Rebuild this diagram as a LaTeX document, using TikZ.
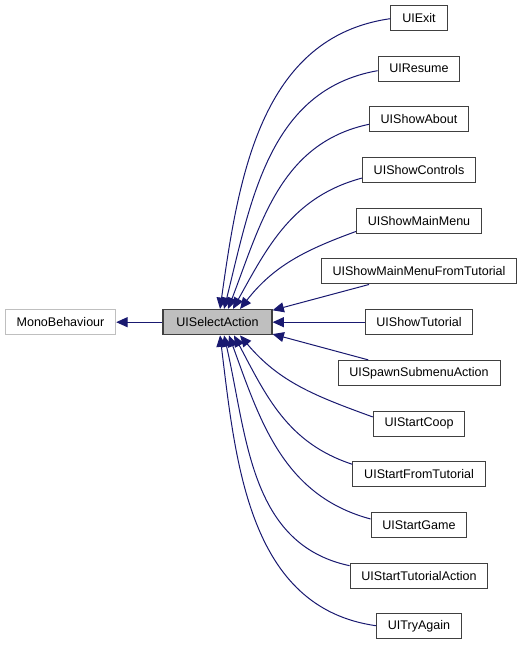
\documentclass[tikz,border=0pt]{standalone}
\usepackage{fontspec}
\setmainfont{Liberation Sans}
\usetikzlibrary{arrows.meta}
\definecolor{edgeblue}{RGB}{25,25,112}
\definecolor{selgray}{RGB}{191,191,191}

\begin{document}
\begin{tikzpicture}[x=0.75pt, y=0.75pt,
  cls/.style={draw=black!75, fill=white, line width=0.75pt, inner xsep=8.5pt, inner ysep=0pt, minimum height=18.75pt, font=\fontsize{9.4}{11}\selectfont},
  inh/.style={draw=edgeblue, line width=0.75pt, -{Triangle[length=8.5pt, width=7.5pt, fill=edgeblue]}}]
\useasboundingbox (0,0) rectangle (524,645);

\node [cls, draw=selgray] (mono) at (60.5,322.8) {MonoBehaviour};
\node [cls, fill=selgray, line width=1.1pt, minimum width=81.5pt] (sel) at (217.5,322.8) {UISelectAction};

\node [cls] (exit) at (419,627) {UIExit};
\node [cls] (resume) at (419,576.3) {UIResume};
\node [cls] (about) at (419,525.6) {UIShowAbout};
\node [cls] (controls) at (419,474.9) {UIShowControls};
\node [cls] (mainmenu) at (419,424.2) {UIShowMainMenu};
\node [cls] (fromtut) at (419,373.5) {UIShowMainMenuFromTutorial};
\node [cls] (showtut) at (419,322.8) {UIShowTutorial};
\node [cls] (spawn) at (419,272.1) {UISpawnSubmenuAction};
\node [cls] (coop) at (419,221.4) {UIStartCoop};
\node [cls] (startfrom) at (419,170.7) {UIStartFromTutorial};
\node [cls] (startgame) at (419,120) {UIStartGame};
\node [cls] (starttut) at (419,69.3) {UIStartTutorialAction};
\node [cls] (tryagain) at (419,18.6) {UITryAgain};

\draw [inh] (sel.west) -- (mono.east);

\draw [inh] ([yshift=-0.5pt]exit.west) to [out=188, in=82] ([xshift=1.9pt]sel.north);
\draw [inh] ([yshift=-1.5pt]resume.west) to [out=190, in=76] ([xshift=4.9pt]sel.north);
\draw [inh] ([yshift=-3.7pt]about.west) to [out=192, in=69] ([xshift=7.9pt]sel.north);
\draw [inh] ([yshift=-6pt]controls.west) to [out=195, in=61] ([xshift=11.6pt]sel.north);
\draw [inh] ([yshift=-8pt]mainmenu.west) to [out=200, in=52] ([xshift=16.9pt]sel.north);
\draw [inh] ([xshift=-37.5pt]fromtut.south) -- ([yshift=-1pt]sel.north east);
\draw [inh] (showtut.west) -- (sel.east);
\draw [inh] ([xshift=-38pt]spawn.north) -- ([yshift=1pt]sel.south east);
\draw [inh] ([yshift=5pt]coop.west) to [out=160, in=-50] ([xshift=16.9pt]sel.south);
\draw [inh] ([yshift=7.5pt]startfrom.west) to [out=162, in=-62] ([xshift=12.4pt]sel.south);
\draw [inh] ([yshift=4.5pt]startgame.west) to [out=165, in=-70] ([xshift=8.6pt]sel.south);
\draw [inh] ([yshift=7.5pt]starttut.west) to [out=168, in=-77] ([xshift=4.9pt]sel.south);
\draw [inh] ([yshift=0.5pt]tryagain.west) to [out=172, in=-83] ([xshift=1.9pt]sel.south);
\end{tikzpicture}
\end{document}
